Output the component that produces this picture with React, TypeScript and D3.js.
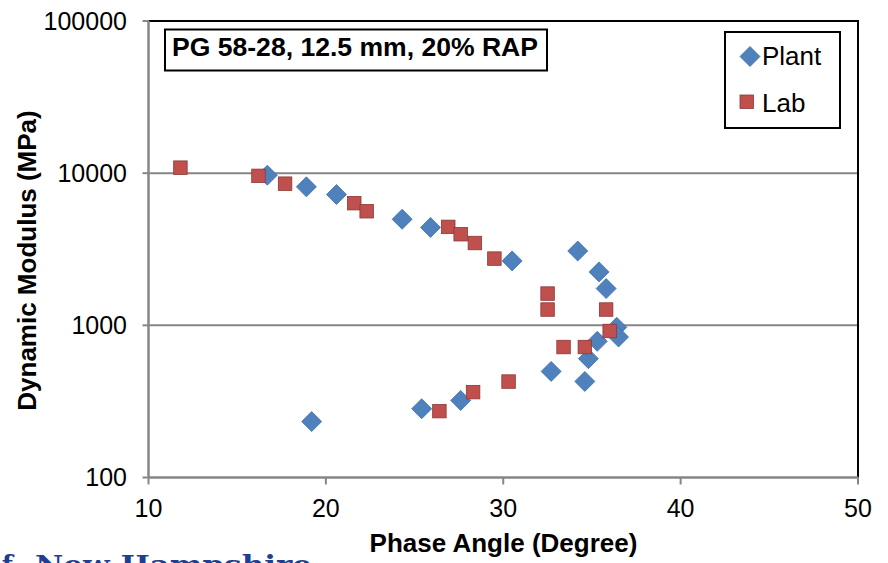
import React from "react";
import * as d3 from "d3";

const plantPhase = [16.7, 18.9, 20.6, 24.3, 25.9, 30.5, 34.2, 35.4, 35.8, 36.4, 36.5, 35.3, 34.8, 34.6, 32.7, 27.6, 25.4, 19.2];
const plantModulus = [9700, 8130, 7240, 4980, 4400, 2650, 3080, 2245, 1745, 970, 838, 785, 604, 428, 498, 321, 283, 233];

const labPhase = [11.8, 16.2, 17.7, 21.6, 22.3, 26.9, 27.6, 28.4, 29.5, 32.5, 32.5, 35.8, 36.0, 33.4, 34.6, 30.3, 28.3, 26.4];
const labModulus = [10870, 9600, 8530, 6350, 5620, 4435, 3970, 3475, 2745, 1617, 1270, 1270, 918, 720, 720, 427, 364, 273];

const xTicks = [10, 20, 30, 40, 50];
const yTicks = [100, 1000, 10000, 100000];
const gridValues = [1000, 10000];

const chartTitle = "PG 58-28, 12.5 mm, 20% RAP";
const xTitle = "Phase Angle (Degree)";
const yTitle = "Dynamic Modulus (MPa)";
const seriesNames = ["Plant", "Lab"];

const W = 888;
const H = 563;
const left = 148.5;
const right = 858;
const top = 21;
const bottom = 477.5;

const FONT = "'Liberation Sans', Arial, sans-serif";
const BLUE = "#4f81bd";
const BLUE_S = "#3f6fa8";
const RED = "#c0504d";
const RED_S = "#8c3836";
const AXIS = "#868686";

export default function App() {
  const x = d3.scaleLinear().domain([10, 50]).range([left, right]);
  const y = d3.scaleLog().domain([100, 100000]).range([bottom, top]);

  const diamond = (cx: number, cy: number, r: number) =>
    `M${cx},${cy - r}L${cx + r},${cy}L${cx},${cy + r}L${cx - r},${cy}Z`;

  const sq = 13.5;

  return (
    <svg
      width={W}
      height={H}
      style={{ position: "absolute", left: 0, top: 0, background: "#fff" }}
      fontFamily={FONT}
    >
      <rect x={0} y={0} width={W} height={H} fill="#fff" />

      {/* gridlines */}
      {gridValues.map((v) => (
        <line key={v} x1={left} x2={right} y1={y(v)} y2={y(v)} stroke={AXIS} strokeWidth={2} />
      ))}

      {/* plot frame top & right */}
      <line x1={left} x2={right + 1} y1={top} y2={top} stroke="#000" strokeWidth={2} />
      <line x1={right} x2={right} y1={top} y2={bottom} stroke="#000" strokeWidth={2} />

      {/* axes */}
      <line x1={left} x2={left} y1={top} y2={bottom} stroke={AXIS} strokeWidth={2.5} />
      <line x1={left} x2={right} y1={bottom} y2={bottom} stroke={AXIS} strokeWidth={2.5} />

      {yTicks.map((v) => (
        <g key={v}>
          <line x1={left - 6} x2={left} y1={y(v)} y2={y(v)} stroke={AXIS} strokeWidth={2} />
          <text x={127} y={y(v)} dy="0.35em" textAnchor="end" fontSize={25} fill="#000">
            {v}
          </text>
        </g>
      ))}

      {xTicks.map((v) => (
        <g key={v}>
          <line x1={x(v)} x2={x(v)} y1={bottom} y2={bottom + 7} stroke={AXIS} strokeWidth={2} />
          <text x={x(v)} y={517} textAnchor="middle" fontSize={25} fill="#000">
            {v}
          </text>
        </g>
      ))}

      {/* axis titles */}
      <text x={503.5} y={552} textAnchor="middle" fontSize={26} fontWeight="bold" fill="#000">
        {xTitle}
      </text>
      <text
        transform={`translate(36,260.5) rotate(-90)`}
        textAnchor="middle"
        fontSize={26}
        fontWeight="bold"
        fill="#000"
      >
        {yTitle}
      </text>

      {/* series */}
      {plantPhase.map((p, i) => (
        <path
          key={"p" + i}
          d={diamond(x(p), y(plantModulus[i]), 10)}
          fill={BLUE}
          stroke={BLUE_S}
          strokeWidth={0.8}
        />
      ))}
      {labPhase.map((p, i) => (
        <rect
          key={"l" + i}
          x={x(p) - sq / 2}
          y={y(labModulus[i]) - sq / 2}
          width={sq}
          height={sq}
          fill={RED}
          stroke={RED_S}
          strokeWidth={0.8}
        />
      ))}

      {/* title box */}
      <rect x={165} y={29.5} width={382} height={41} fill="#fff" stroke="#000" strokeWidth={2} />
      <text x={172} y={56} fontSize={26} fontWeight="bold" fill="#000" textLength={366} lengthAdjust="spacingAndGlyphs">
        {chartTitle}
      </text>

      {/* legend */}
      <rect x={725} y={32} width={115} height={96} fill="#fff" stroke="#000" strokeWidth={2} />
      <path d={diamond(750, 56.5, 10)} fill={BLUE} stroke={BLUE_S} strokeWidth={0.8} />
      <text x={762} y={65} fontSize={26} fill="#000">
        {seriesNames[0]}
      </text>
      <rect x={740} y={95} width={sq} height={sq} fill={RED} stroke={RED_S} strokeWidth={0.8} />
      <text x={762} y={111.5} fontSize={26} fill="#000">
        {seriesNames[1]}
      </text>

      {/* partially visible logo text (cut by the bottom edge, as in the source image) */}
      <text x={13} y={574} textAnchor="end" fontSize={26} fontWeight="bold" fill="#1c3f94" fontFamily="'DejaVu Serif', serif">
        of
      </text>
      <text
        x={35}
        y={574}
        fontSize={26}
        fontWeight="bold"
        fill="#1c3f94"
        fontFamily="'DejaVu Serif', serif"
        textLength={277}
        lengthAdjust="spacingAndGlyphs"
      >
        New Hampshire
      </text>
    </svg>
  );
}
